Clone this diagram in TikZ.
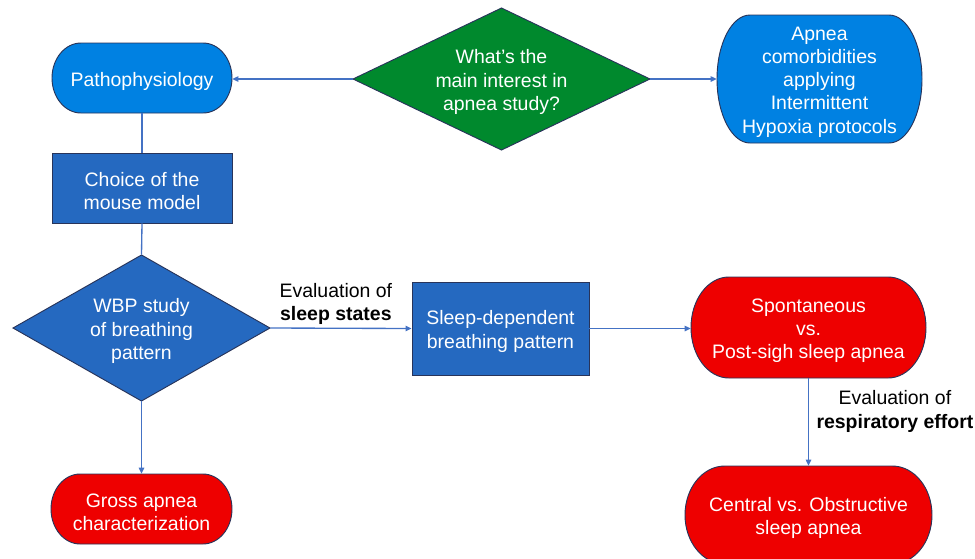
\documentclass[tikz,border=0pt]{standalone}
\usepackage{fontspec}
\setmainfont{Liberation Sans}
\usetikzlibrary{arrows.meta}
\definecolor{lblue}{RGB}{0,129,226}
\definecolor{dblue}{RGB}{37,105,192}
\definecolor{dgreen}{RGB}{0,137,45}
\definecolor{bred}{RGB}{238,0,0}
\definecolor{edgec}{RGB}{40,52,90}
\definecolor{linec}{RGB}{68,114,196}
\tikzset{
  txt/.style={text=white, font=\fontsize{14.6}{17.4}\selectfont, align=center, inner sep=0pt},
  lbl/.style={text=black, font=\fontsize{14.6}{17.4}\selectfont, align=center, inner sep=0pt},
  box/.style={inner sep=0pt},
  shp/.style={draw=edgec, line width=0.7pt},
  conn/.style={draw=linec, line width=1pt},
  arr/.style={conn, -{Triangle[length=4.5pt,width=4pt]}},
}
% terminator: name, cx, cy, w, h, colour, text (pixel units, y downward)
\newcommand\termnode[7]{%
  \pgfmathsetmacro\trx{0.161*#4}%
  \pgfmathsetmacro\try{#5/2}%
  \path[shp, fill=#6] ({#2-#4/2+\trx},{-(#3-#5/2)}) -- ({#2+#4/2-\trx},{-(#3-#5/2)})
     arc[start angle=90,end angle=-90,x radius=\trx,y radius=\try]
     -- ({#2-#4/2+\trx},{-(#3+#5/2)})
     arc[start angle=270,end angle=90,x radius=\trx,y radius=\try] -- cycle;
  \node[box, minimum width={#4*0.75pt}, minimum height={#5*0.75pt}] (#1) at (#2,-#3) {};
  \node[txt] (#1-t) at (#2,{-(#3+3)}) {#7};
}
% diamond: name, cx, cy, w, h, colour, text
\newcommand\diamnode[7]{%
  \path[shp, fill=#6] ({#2-#4/2},{-#3}) -- ({#2},{-(#3-#5/2)}) -- ({#2+#4/2},{-#3})
     -- ({#2},{-(#3+#5/2)}) -- cycle;
  \node[box, minimum width={#4*0.75pt}, minimum height={#5*0.75pt}] (#1) at (#2,-#3) {};
  \node[txt] (#1-t) at (#2,{-(#3+3)}) {#7};
}
% rectangle: name, cx, cy, w, h, colour, text
\newcommand\rectnode[7]{%
  \node[box, shp, fill=#6, minimum width={#4*0.75pt}, minimum height={#5*0.75pt}] (#1) at (#2,-#3) {};
  \node[txt] (#1-t) at (#2,{-(#3+3)}) {#7};
}
\begin{document}
\begin{tikzpicture}[x=0.75pt, y=0.75pt]
\useasboundingbox (0,0) rectangle (975,-558);
\clip (0,0) rectangle (975,-558);

\termnode{path}{142}{78}{180}{70}{lblue}{Pathophysiology}
\diamnode{q}{501.5}{79}{297}{142}{dgreen}{What’s the\\main interest in\\apnea study?}
\termnode{com}{819.5}{79}{205}{128}{lblue}{Apnea\\comorbidities\\applying\\Intermittent\\Hypoxia protocols}
\rectnode{choice}{142}{188}{180}{70}{dblue}{Choice of the\\mouse model}
\diamnode{wbp}{141.5}{328}{257}{146}{dblue}{WBP study\\of breathing\\pattern}
\rectnode{sdb}{500.5}{328.5}{177}{93}{dblue}{Sleep-dependent\\breathing pattern}
\termnode{spon}{808.5}{327.5}{235}{101}{bred}{Spontaneous\\vs.\\Post-sigh sleep apnea}
\termnode{gross}{141.5}{509}{181}{70}{bred}{Gross apnea\\characterization}
\termnode{cen}{808.5}{515}{247}{98}{bred}{Central vs. Obstructive\\sleep apnea}

\draw[arr] (q.west) -- (q.west -| path.east);
\draw[arr] (q.east) -- (com.west);
\draw[conn] (path.south) -- (choice.north);
\draw[conn] (choice.south) -- (wbp.north);
\draw[arr] (wbp.south) -- (gross.north);
\draw[arr] (wbp.east) -- (sdb.west) node[lbl, midway, above=2.5pt, xshift=-3.75pt] (lab1) {Evaluation of\\\textbf{sleep states}};
\draw[arr] (sdb.east) -- (sdb.east -| spon.west);
\draw[arr] (spon.south) -- (cen.north) node[lbl, pos=0.38, right=5.5pt] (lab2) {Evaluation of\\\textbf{respiratory effort}};
\end{tikzpicture}
\end{document}
